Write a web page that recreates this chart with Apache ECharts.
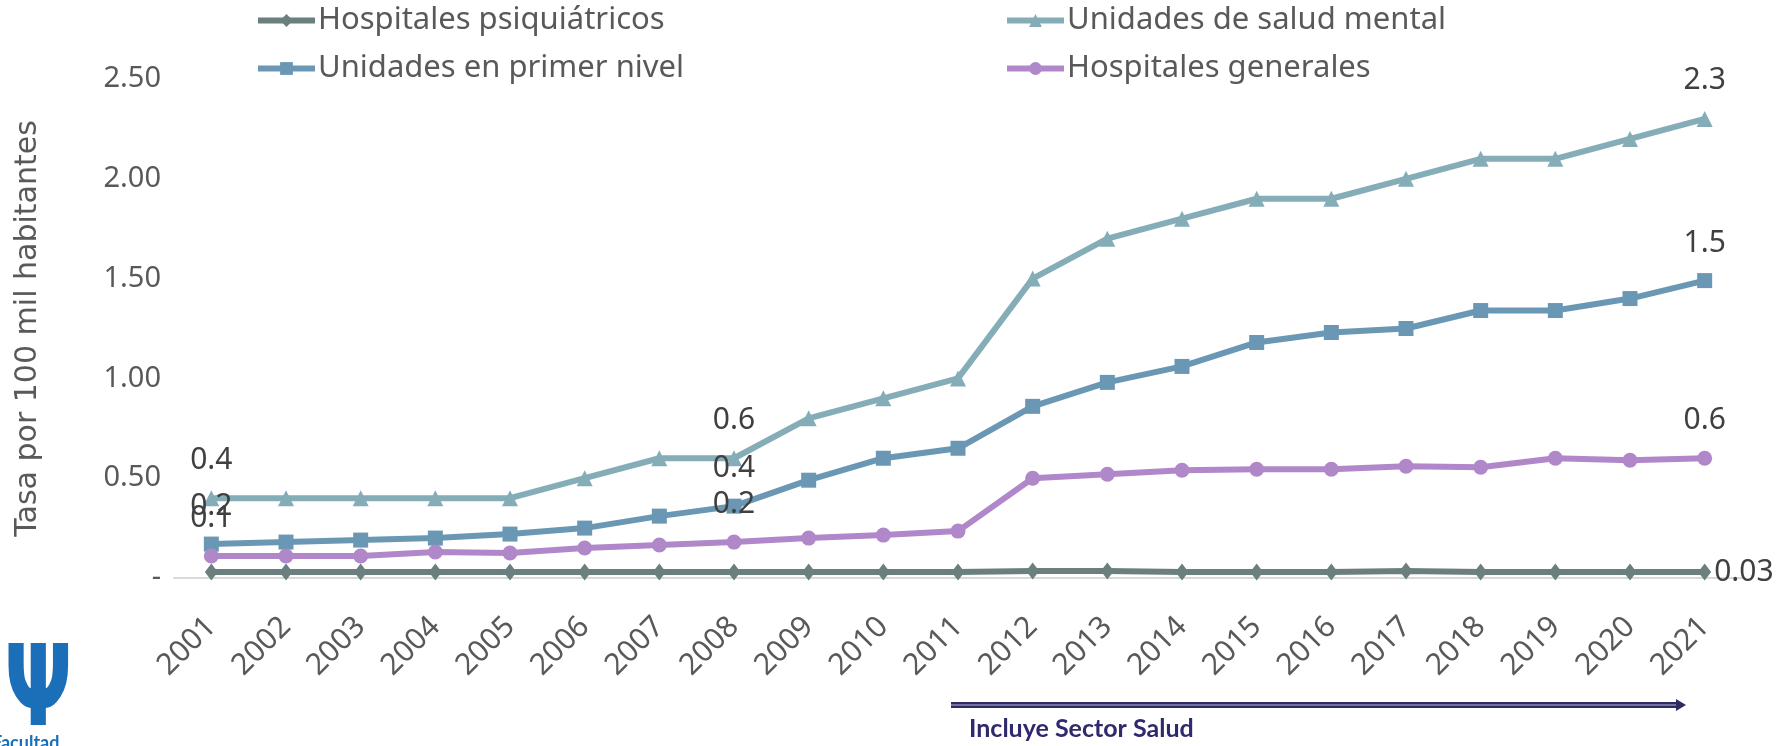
<!DOCTYPE html>
<html lang="es">
<head>
    <meta charset="UTF-8">
    <title>Tasa por 100 mil habitantes</title>
    <script src="https://cdn.jsdelivr.net/npm/echarts@6/dist/echarts.min.js"></script>
    <style>
        html, body { margin: 0; padding: 0; background: #fff; }
        #chart { width: 1779px; height: 746px; }
    </style>
</head>
<body>
<div id="chart"></div>
<script type="text/javascript">
    var years = ['2001','2002','2003','2004','2005','2006','2007','2008','2009','2010','2011',
        '2012','2013','2014','2015','2016','2017','2018','2019','2020','2021'];
    var psiquiatricos = [0.03,0.03,0.03,0.03,0.03,0.03,0.03,0.03,0.03,0.03,0.03,
        0.035,0.035,0.03,0.03,0.03,0.035,0.03,0.03,0.03,0.03];
    var saludMental = [0.4,0.4,0.4,0.4,0.4,0.5,0.6,0.6,0.8,0.9,1.0,
        1.5,1.7,1.8,1.9,1.9,2.0,2.1,2.1,2.2,2.3];
    var primerNivel = [0.17,0.18,0.19,0.2,0.22,0.25,0.31,0.36,0.49,0.6,0.65,
        0.86,0.98,1.06,1.18,1.23,1.25,1.34,1.34,1.4,1.49];
    var generales = [0.11,0.11,0.11,0.13,0.125,0.15,0.165,0.18,0.2,0.215,0.235,
        0.5,0.52,0.54,0.545,0.545,0.56,0.555,0.6,0.59,0.6];
    var yTicks = [0, 0.5, 1, 1.5, 2, 2.5];
    var labelIdx = [0, 7, 20];   // puntos con etiqueta

    var txt = '#595959';
    var font = "'Noto Sans', sans-serif";

    function lbl(p) {
        return labelIdx.indexOf(p.dataIndex) >= 0 ? p.value.toFixed(1) : '';
    }

    function serie(name, data, color, symbol, size) {
        return {
            name: name, type: 'line', data: data,
            symbol: symbol, symbolSize: size,
            lineStyle: { color: color, width: 6 },
            itemStyle: { color: color },
            label: {
                show: true, position: 'top', distance: 15,
                formatter: lbl, fontSize: 30, color: '#404040', fontFamily: font
            },
            z: 3
        };
    }

    var legendBase = {
        top: 5, orient: 'vertical', itemGap: 17, padding: 0,
        itemWidth: 57, itemHeight: 16,
        lineStyle: { width: 6 },
        textStyle: { fontSize: 31, color: txt, fontFamily: font, padding: [0, 0, 0, -2] }
    };

    var myChart = echarts.init(document.getElementById('chart'));
    var option = {
        animation: false,
        grid: { left: 174, right: 37, top: 79, bottom: 168 },
        legend: [
            Object.assign({}, legendBase, { left: 255, data: ['Hospitales psiquiátricos', 'Unidades en primer nivel'] }),
            Object.assign({}, legendBase, { left: 1004, data: ['Unidades de salud mental', 'Hospitales generales'] })
        ],
        xAxis: {
            type: 'category', data: years, boundaryGap: true,
            axisLine: { lineStyle: { color: '#d9d9d9', width: 2 } },
            axisTick: { show: false },
            axisLabel: { rotate: 45, fontSize: 30, color: txt, fontFamily: font, margin: 44 }
        },
        yAxis: {
            type: 'value', min: 0, max: 2.5, interval: 0.5,
            name: 'Tasa por 100 mil habitantes', nameLocation: 'middle', nameGap: 131,
            nameTextStyle: { fontSize: 30, color: txt, fontFamily: "'DejaVu Sans', sans-serif" },
            splitLine: { show: false },
            axisLine: { show: false },
            axisLabel: {
                fontSize: 29, color: txt, fontFamily: font, margin: 13,
                formatter: function (v) {
                    return yTicks.indexOf(v) > 0 ? v.toFixed(2) : '-';
                }
            }
        },
        series: [
            (function () {
                var s = serie('Hospitales psiquiátricos', psiquiatricos, '#6b7f7f', 'diamond', [13, 17]);
                s.label = {
                    show: true, position: 'right', distance: 3,
                    formatter: function (p) { return p.dataIndex === 20 ? p.value.toFixed(2) : ''; },
                    fontSize: 30, color: '#404040', fontFamily: font
                };
                return s;
            })(),
            serie('Unidades de salud mental', saludMental, '#84adb8', 'triangle', 16),
            serie('Unidades en primer nivel', primerNivel, '#6a98b4', 'rect', 15),
            serie('Hospitales generales', generales, '#b088c9', 'circle', 15)
        ],
        graphic: [
            { type: 'line', shape: { x1: 951, y1: 705, x2: 1678, y2: 705 },
              style: { stroke: '#2e2a62', lineWidth: 6 } },
            { type: 'line', shape: { x1: 951, y1: 705, x2: 1676, y2: 705 },
              style: { stroke: '#8a88b8', lineWidth: 1.5 } },
            { type: 'polygon', shape: { points: [[1676, 699], [1686, 705], [1676, 711]] },
              style: { fill: '#2e2a62' } },
            { type: 'text', left: 969, top: 716,
              style: { text: 'Incluye Sector Salud', fontSize: 25, fontWeight: 'bold',
                       fill: '#2e2a6b', fontFamily: "'Lato', sans-serif" } },
            { type: 'text', x: 4, y: 640, scaleX: 0.72,
              style: { text: 'Ψ', fontSize: 112, fontWeight: 'bold', fill: '#1a6fb8',
                       fontFamily: "'DejaVu Sans', sans-serif" } },
            { type: 'text', left: -8, top: 734,
              style: { text: 'Facultad', fontSize: 18, fontWeight: 'bold', fill: '#1a6fb8',
                       fontFamily: "'Lato', sans-serif" } }
        ]
    };
    myChart.setOption(option);
</script>
</body>
</html>
